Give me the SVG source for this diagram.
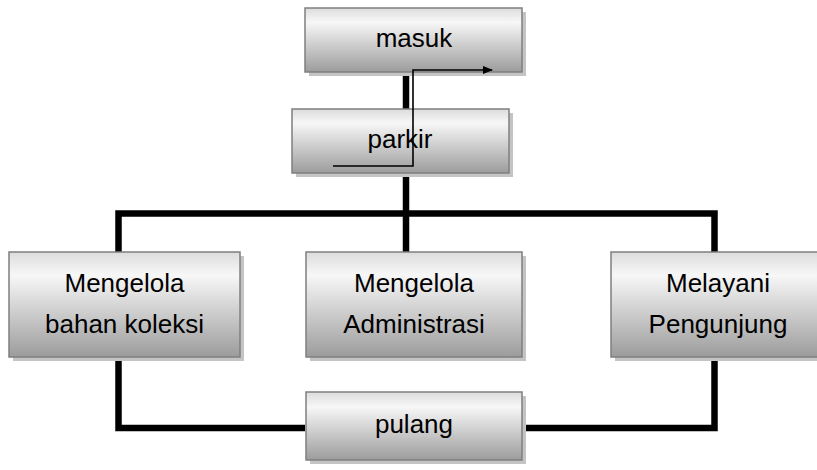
<svg xmlns="http://www.w3.org/2000/svg" width="817" height="470" viewBox="0 0 817 470">
<style>
.box{fill:url(#g);stroke:#7f7f7f;stroke-width:1.5}
.sh{fill:#c4c4c4}
.t{font-family:"Liberation Sans",Arial,sans-serif;font-size:26px;fill:#000;text-anchor:middle}
.thick{fill:none;stroke:#000;stroke-width:6.5;stroke-linejoin:miter;stroke-linecap:butt}
.thin{fill:none;stroke:#000;stroke-width:1.6}
</style>
<defs>
<linearGradient id="g" x1="0" y1="0" x2="0" y2="1">
<stop offset="0" stop-color="#dcdcdc"/>
<stop offset="0.22" stop-color="#f7f7f7"/>
<stop offset="1" stop-color="#9c9c9c"/>
</linearGradient>
<marker id="arr" viewBox="0 0 10 10" refX="9" refY="5" markerWidth="10" markerHeight="10" markerUnits="userSpaceOnUse" orient="auto">
<path d="M0,1 L10,5 L0,9 Z" fill="#000"/>
</marker>
</defs>
<g id="connectors">
<line class="thick" x1="406" y1="72" x2="406" y2="109"/>
<line class="thick" x1="406" y1="173" x2="406" y2="252"/>
<polyline class="thick" points="118.5,252 118.5,213.5 714.5,213.5 714.5,252"/>
<polyline class="thick" points="118.5,357 118.5,428 305,428"/>
<polyline class="thick" points="522,428 714.5,428 714.5,357"/>
</g>
<g id="masuk">
<rect class="sh" x="309" y="12" width="217" height="64"/>
<rect class="box" x="305" y="8" width="217" height="64"/>
<text class="t" x="414" y="47">masuk</text>
</g>
<g id="parkir">
<rect class="sh" x="296" y="113" width="217" height="64"/>
<rect class="box" x="292" y="109" width="217" height="64"/>
<text class="t" x="400" y="148">parkir</text>
</g>
<g id="bahan">
<rect class="sh" x="13" y="256" width="231" height="105"/>
<rect class="box" x="9" y="252" width="231" height="105"/>
<text class="t" x="124.5" y="292">Mengelola</text>
<text class="t" x="124.5" y="333">bahan koleksi</text>
</g>
<g id="administrasi">
<rect class="sh" x="310" y="256" width="216" height="105"/>
<rect class="box" x="306" y="252" width="216" height="105"/>
<text class="t" x="414" y="292">Mengelola</text>
<text class="t" x="414" y="333">Administrasi</text>
</g>
<g id="pengunjung">
<rect class="sh" x="615" y="256" width="214" height="105"/>
<rect class="box" x="611" y="252" width="214" height="105"/>
<text class="t" x="718" y="292">Melayani</text>
<text class="t" x="718" y="333">Pengunjung</text>
</g>
<g id="pulang">
<rect class="sh" x="310" y="396" width="216" height="68"/>
<rect class="box" x="306" y="392" width="216" height="68"/>
<text class="t" x="414" y="433">pulang</text>
</g>
<g id="flow-arrow">
<polyline class="thin" points="333,166 413,166 413,70 492,70" marker-end="url(#arr)"/>
</g>
</svg>
